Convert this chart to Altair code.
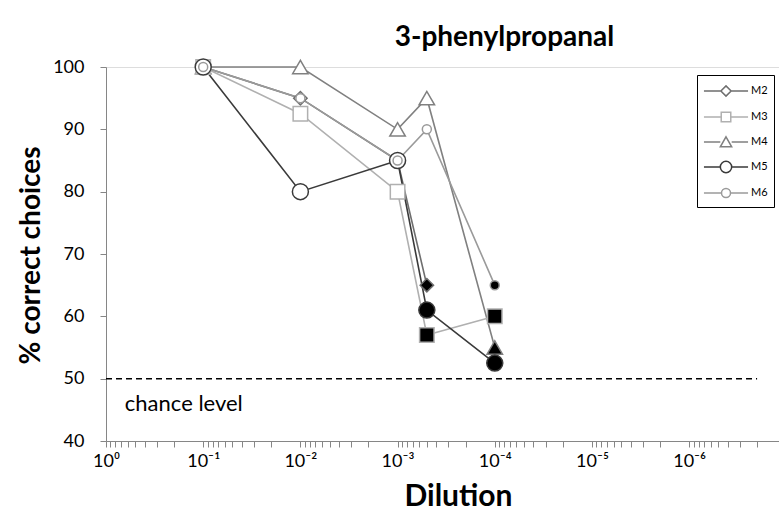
import json
import altair as alt
import pandas as pd

# ---------------- data ----------------
series_names = ["M2", "M3", "M4", "M5", "M6"]
dilutions = [1e-1, 1e-2, 1e-3, 5e-4, 1e-4]
m2_values = [100, 95, 85, 65, None]
m3_values = [100, 92.5, 80, 57, 60]
m4_values = [100, 100, 90, 95, 55]
m5_values = [100, 80, 85, 61, 52.5]
m6_values = [100, 95, 85, 90, 65]
# filled (black) markers
m2_filled = [False, False, False, True, False]
m3_filled = [False, False, False, True, True]
m4_filled = [False, False, False, False, True]
m5_filled = [False, False, False, True, True]
m6_filled = [False, False, False, False, True]
tick_labels = ["10⁰", "10⁻¹", "10⁻²", "10⁻³", "10⁻⁴", "10⁻⁵", "10⁻⁶", "10⁻⁷"]
y_ticks = [40, 50, 60, 70, 80, 90, 100]
chance_value = 50
chance_label = "chance level"
chance_x_range = [1, 2e-7]
chance_label_pos = [0.64, 46]
title_text = "3-phenylpropanal"
x_title = "Dilution"
y_title = "% correct choices"

# ---------------- styles ----------------
FONT = "Lato"
colors = {"M2": "#6e6e6e", "M3": "#b0b0b0", "M4": "#808080", "M5": "#3a3a3a", "M6": "#9a9a9a"}
shapes = {"M2": "diamond", "M3": "square", "M4": "triangle-up", "M5": "circle", "M6": "circle"}
sizes = {"M2": 180, "M3": 210, "M4": 240, "M5": 256, "M6": 81}
draw_order = ["M4", "M2", "M3", "M5", "M6"]


def circ(r):
    return f"M{r},0A{r},{r} 0 1,0 {-r},0A{r},{r} 0 1,0 {r},0Z"


# legend symbol: scale 9 px per unit (symbolSize 324)
L = 2.45
legend_paths = {
    "M2": f"M{-L},0L-0.57,0M0.57,0L{L},0M-0.57,0L0,-0.57L0.57,0L0,0.57Z",
    "M3": f"M{-L},0L-0.53,0M0.53,0L{L},0M-0.53,-0.53L0.53,-0.53L0.53,0.53L-0.53,0.53Z",
    "M4": f"M{-L},0L-0.63,0M0.63,0L{L},0M0,-0.57L0.63,0.53L-0.63,0.53Z",
    "M5": f"M{-L},0L-0.63,0M0.63,0L{L},0" + circ(0.63),
    "M6": f"M{-L},0L-0.5,0M0.5,0L{L},0" + circ(0.5),
}

vals = {"M2": m2_values, "M3": m3_values, "M4": m4_values, "M5": m5_values, "M6": m6_values}
fills = {"M2": m2_filled, "M3": m3_filled, "M4": m4_filled, "M5": m5_filled, "M6": m6_filled}

rows = []
for s in draw_order:
    for d, v, f in zip(dilutions, vals[s], fills[s]):
        if v is None:
            continue
        rows.append({"series": s, "dilution": d, "pct": v,
                     "fillc": "#000000" if f else "#ffffff",
                     "mstroke": colors[s], "mshape": shapes[s], "msize": sizes[s]})
df = pd.DataFrame(rows)

x_min = 1.19e-7
tick_values = [1.0] + [m * 10.0 ** (-k) for k in range(1, 8) for m in range(9, 0, -1)]
tick_values = [t for t in tick_values if t >= x_min]

label_expr = (
    "abs(log(datum.value)/LN10 - round(log(datum.value)/LN10)) < 0.001 ? "
    + json.dumps(tick_labels, ensure_ascii=False)
    + "[round(-log(datum.value)/LN10)] : ''"
)

x_scale = alt.Scale(type="log", domain=[x_min, 1], reverse=True, nice=False)
y_scale = alt.Scale(domain=[40, 100], nice=False, zero=False)

x_axis = alt.Axis(
    values=tick_values, labelExpr=label_expr, labelOverlap=False, labelFlush=False,
    grid=False, domainColor="#868686", tickColor="#868686", tickSize=6,
    labelFont=FONT, labelFontSize=18, labelColor="#000000", labelPadding=5,
    title=x_title, titleFont=FONT, titleFontSize=30, titleFontWeight="bold", titleColor="#000000",
    titleX=352, titleY=55, titleBaseline="middle", titleAlign="center",
)
y_axis = alt.Axis(
    values=y_ticks, grid=False, domainColor="#868686", tickColor="#868686", tickSize=6,
    labelFont=FONT, labelFontSize=18, labelColor="#000000", labelPadding=16,
    title=y_title, titleFont=FONT, titleFontSize=28, titleFontWeight="bold", titleColor="#000000",
    titleX=-75, titleY=188, titleBaseline="middle", titleAlign="center", titleAngle=-90,
)

base = alt.Chart(df)

lines = base.mark_line(strokeWidth=1.6).encode(
    x=alt.X("dilution:Q", scale=x_scale, axis=x_axis),
    y=alt.Y("pct:Q", scale=y_scale, axis=y_axis),
    color=alt.Color("mstroke:N", scale=None, legend=None),
    detail="series:N",
)

points = base.mark_point(filled=True, opacity=1, strokeWidth=1.5).encode(
    x=alt.X("dilution:Q", scale=x_scale),
    y=alt.Y("pct:Q", scale=y_scale),
    shape=alt.Shape("mshape:N", scale=None, legend=None),
    size=alt.Size("msize:Q", scale=None, legend=None),
    fill=alt.Fill("fillc:N", scale=None, legend=None),
    stroke=alt.Stroke("mstroke:N", scale=None, legend=None),
)

chance_df = pd.DataFrame({"x": [chance_x_range[0]], "x2": [chance_x_range[1]], "y": [chance_value]})
chance_rule = alt.Chart(chance_df).mark_rule(color="#000000", strokeDash=[6, 4], strokeWidth=1.5).encode(
    x=alt.X("x:Q", scale=x_scale), x2="x2:Q", y=alt.Y("y:Q", scale=y_scale)
)

label_df = pd.DataFrame({"x": [chance_label_pos[0]], "y": [chance_label_pos[1]], "t": [chance_label]})
chance_text = alt.Chart(label_df).mark_text(
    align="left", baseline="middle", font=FONT, fontSize=22, color="#000000"
).encode(x=alt.X("x:Q", scale=x_scale), y=alt.Y("y:Q", scale=y_scale), text="t:N")

legend_df = pd.DataFrame({"series": series_names, "x": [0.1] * 5, "y": [0] * 5})
legend_props = dict(
    title=None, orient="none", legendX=591, legendY=8, strokeColor="#000000", padding=6,
    symbolSize=324, symbolStrokeWidth=1.5, symbolFillColor="#ffffff", symbolOffset=13,
    labelFont=FONT, labelFontSize=11, labelColor="#000000", labelOffset=15, rowPadding=7,
    fillColor="#ffffff",
)
legend_layer = alt.Chart(legend_df).mark_point(filled=False, opacity=1, strokeWidth=1.5, clip=True).encode(
    x=alt.X("x:Q", scale=x_scale),
    y=alt.Y("y:Q", scale=y_scale),
    stroke=alt.Stroke("series:N", scale=alt.Scale(domain=series_names, range=[colors[s] for s in series_names]),
                      legend=alt.Legend(**legend_props)),
    shape=alt.Shape("series:N", scale=alt.Scale(domain=series_names, range=[legend_paths[s] for s in series_names]),
                    legend=alt.Legend(**legend_props)),
)

chart = alt.layer(chance_rule, chance_text, lines, points, legend_layer).resolve_scale(
    stroke="independent", shape="independent"
).properties(
    width=673, height=374,
    padding={"left": 106, "top": 67, "right": 0, "bottom": 74},
    autosize=alt.AutoSizeParams(type="none"),
    title=alt.TitleParams(title_text, font=FONT, fontSize=28, fontWeight="bold", color="#000000",
                          anchor="middle", dx=62, offset=4),
).configure_view(stroke=None).configure(background="#ffffff")

chart.save("out.html", embed_options={"renderer": "svg", "actions": False})
